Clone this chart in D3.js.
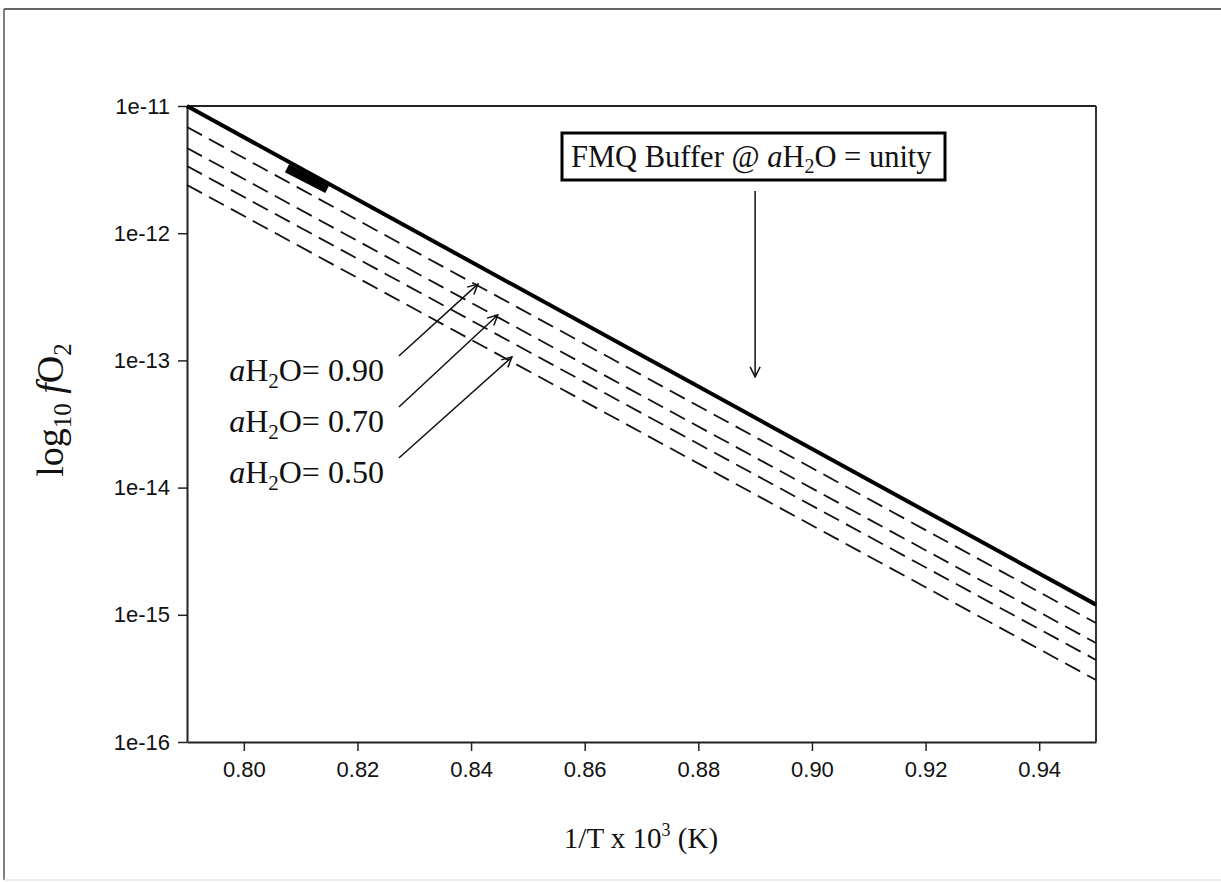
<!DOCTYPE html>
<html>
<head>
<meta charset="utf-8">
<script src="https://cdn.jsdelivr.net/npm/d3@7"></script>
<style>
  body { margin: 0; background: #fff; }
  svg { display: block; }
</style>
</head>
<body>
<div id="chart"></div>
<script>
// x values (1/T x 10^3) at the two ends of every line
const xValues = [0.79, 0.95];

// log10 fO2 at both ends
const fmqUnity = [-11.0, -14.92];
const dashed1 = [-11.165, -15.065];
const dashed2 = [-11.33, -15.222];
const dashed3 = [-11.472, -15.355];
const dashed4 = [-11.621, -15.513];

// short thick black segment lying on the buffer line
const segmentX = [0.8076, 0.8147];
const segmentY = [-11.49, -11.653];

// axis ticks
const xTicks = [0.80, 0.82, 0.84, 0.86, 0.88, 0.90, 0.92, 0.94];
const yTicks = [-11, -12, -13, -14, -15, -16];

// labels for the dashed lines, with arrow tails and tips in data units
const activityLabels = ["0.90", "0.70", "0.50"];
const arrowTails = [[0.8273, -12.965], [0.8273, -13.366], [0.8273, -13.767]];
const arrowTips = [[0.8412, -12.40], [0.8447, -12.643], [0.8472, -12.973]];

// FMQ annotation arrow
const fmqArrow = [[0.89, -11.668], [0.89, -13.13]];

const width = 1221;
const height = 882;
const margin = { top: 106, right: 125, bottom: 140, left: 187 };
const innerWidth = width - margin.left - margin.right;
const innerHeight = height - margin.top - margin.bottom;

const serif = "'Liberation Serif', 'Times New Roman', serif";
const sans = "'Liberation Sans', Arial, sans-serif";

const svg = d3.select("#chart")
  .append("svg")
    .attr("width", width)
    .attr("height", height)
    .attr("viewBox", `0 0 ${width} ${height}`);

// picture frame
svg.append("line").attr("x1", 4).attr("y1", 9).attr("x2", width).attr("y2", 9)
  .attr("stroke", "#333").attr("stroke-width", 1.5);
svg.append("line").attr("x1", 4).attr("y1", 9).attr("x2", 4).attr("y2", 880)
  .attr("stroke", "#555").attr("stroke-width", 1.5);
svg.append("line").attr("x1", 4).attr("y1", 880).attr("x2", width).attr("y2", 880)
  .attr("stroke", "#e6e6e6").attr("stroke-width", 1.5);

svg.append("defs").append("marker")
    .attr("id", "arrow")
    .attr("viewBox", "0 0 12 12")
    .attr("refX", 11).attr("refY", 6)
    .attr("markerWidth", 12).attr("markerHeight", 12)
    .attr("markerUnits", "userSpaceOnUse")
    .attr("orient", "auto")
  .append("path")
    .attr("d", "M1,1 L11,6 L1,11")
    .attr("fill", "none")
    .attr("stroke", "#111")
    .attr("stroke-width", 1.5);

const innerChart = svg.append("g")
  .attr("transform", `translate(${margin.left}, ${margin.top})`);

// scales
const xScale = d3.scaleLinear()
  .domain([0.79, 0.95])
  .range([0, innerWidth]);

const yScale = d3.scaleLog()
  .domain([1e-16, 1e-11])
  .range([innerHeight, 0]);

const yLog = v => yScale(Math.pow(10, v));

// axes
const bottomAxis = d3.axisBottom(xScale)
  .tickValues(xTicks)
  .tickFormat(d3.format(".2f"))
  .tickSizeInner(9)
  .tickSizeOuter(0)
  .tickPadding(10);
const xAxis = innerChart.append("g")
  .attr("transform", `translate(0, ${innerHeight})`)
  .call(bottomAxis);

const leftAxis = d3.axisLeft(yScale)
  .tickValues(yTicks.map(v => Math.pow(10, v)))
  .tickFormat(d => "1e" + Math.round(Math.log10(d)))
  .tickSizeInner(9)
  .tickSizeOuter(0)
  .tickPadding(8);
const yAxis = innerChart.append("g").call(leftAxis);

[xAxis, yAxis].forEach(a => {
  a.attr("font-size", 22).attr("font-family", sans);
  a.select(".domain").attr("stroke", "#222").attr("stroke-width", 2);
  a.selectAll(".tick line").attr("stroke", "#222").attr("stroke-width", 1.5);
  a.selectAll(".tick text").attr("fill", "#111");
});

// top and right frame of the plot
innerChart.append("line")
  .attr("x1", 0).attr("y1", 0).attr("x2", innerWidth).attr("y2", 0)
  .attr("stroke", "#222").attr("stroke-width", 2);
innerChart.append("line")
  .attr("x1", innerWidth).attr("y1", 0).attr("x2", innerWidth).attr("y2", innerHeight)
  .attr("stroke", "#333").attr("stroke-width", 2);

// lines
const lineGenerator = d3.line()
  .x(d => xScale(d[0]))
  .y(d => yLog(d[1]));

const toPoints = (xs, ys) => xs.map((x, i) => [x, ys[i]]);

[dashed1, dashed2, dashed3, dashed4].forEach(series => {
  innerChart.append("path")
    .attr("d", lineGenerator(toPoints(xValues, series)))
    .attr("fill", "none")
    .attr("stroke", "#111")
    .attr("stroke-width", 1.8)
    .attr("stroke-dasharray", "17,8");
});

innerChart.append("path")
  .attr("d", lineGenerator(toPoints(xValues, fmqUnity)))
  .attr("fill", "none")
  .attr("stroke", "#000")
  .attr("stroke-width", 4);

innerChart.append("path")
  .attr("d", lineGenerator(toPoints(segmentX, segmentY)))
  .attr("fill", "none")
  .attr("stroke", "#000")
  .attr("stroke-width", 9);

// annotation for the buffer line
innerChart.append("rect")
  .attr("x", 562 - margin.left)
  .attr("y", 133 - margin.top)
  .attr("width", 383)
  .attr("height", 47)
  .attr("fill", "#fff")
  .attr("stroke", "#000")
  .attr("stroke-width", 3);

const fmqText = innerChart.append("text")
  .attr("x", 571 - margin.left)
  .attr("y", 167 - margin.top)
  .attr("font-family", serif)
  .attr("fill", "#111")
  .attr("font-size", 30.5);
fmqText.append("tspan").text("FMQ Buffer @ ");
fmqText.append("tspan").attr("font-style", "italic").text("a");
fmqText.append("tspan").text("H");
fmqText.append("tspan").attr("font-size", 20).attr("dy", 6).text("2");
fmqText.append("tspan").attr("dy", -6).text("O = unity");

innerChart.append("line")
  .attr("x1", xScale(fmqArrow[0][0])).attr("y1", yLog(fmqArrow[0][1]))
  .attr("x2", xScale(fmqArrow[1][0])).attr("y2", yLog(fmqArrow[1][1]))
  .attr("stroke", "#111").attr("stroke-width", 1.5)
  .attr("marker-end", "url(#arrow)");

// labels for the dashed lines
activityLabels.forEach((label, i) => {
  const tail = arrowTails[i];
  const tip = arrowTips[i];
  innerChart.append("line")
    .attr("x1", xScale(tail[0])).attr("y1", yLog(tail[1]))
    .attr("x2", xScale(tip[0])).attr("y2", yLog(tip[1]))
    .attr("stroke", "#111").attr("stroke-width", 1.5)
    .attr("marker-end", "url(#arrow)");

  const t = innerChart.append("text")
    .attr("x", xScale(tail[0]) - 15)
    .attr("y", yLog(tail[1]) + 25)
    .attr("text-anchor", "end")
    .attr("font-family", serif)
    .attr("fill", "#111")
    .attr("font-size", 32);
  t.append("tspan").attr("font-style", "italic").text("a");
  t.append("tspan").text("H");
  t.append("tspan").attr("font-size", 21).attr("dy", 7).text("2");
  t.append("tspan").attr("dy", -7).text("O= " + label);
});

// axis titles
const xTitle = svg.append("text")
  .attr("x", 641)
  .attr("y", 848)
  .attr("text-anchor", "middle")
  .attr("font-family", serif)
  .attr("fill", "#111")
  .attr("font-size", 29);
xTitle.append("tspan").text("1/T x 10");
xTitle.append("tspan").attr("font-size", 18).attr("dy", -12).text("3");
xTitle.append("tspan").attr("dy", 12).text(" (K)");

const yTitle = svg.append("text")
  .attr("transform", "translate(63, 410) rotate(-90)")
  .attr("text-anchor", "middle")
  .attr("font-family", serif)
  .attr("fill", "#111")
  .attr("font-size", 38);
yTitle.append("tspan").text("log");
yTitle.append("tspan").attr("font-size", 25).attr("dy", 8).text("10");
yTitle.append("tspan").attr("dy", -8).text(" ");
yTitle.append("tspan").attr("font-style", "italic").text("f");
yTitle.append("tspan").text("O");
yTitle.append("tspan").attr("font-size", 25).attr("dy", 8).text("2");
</script>
</body>
</html>
